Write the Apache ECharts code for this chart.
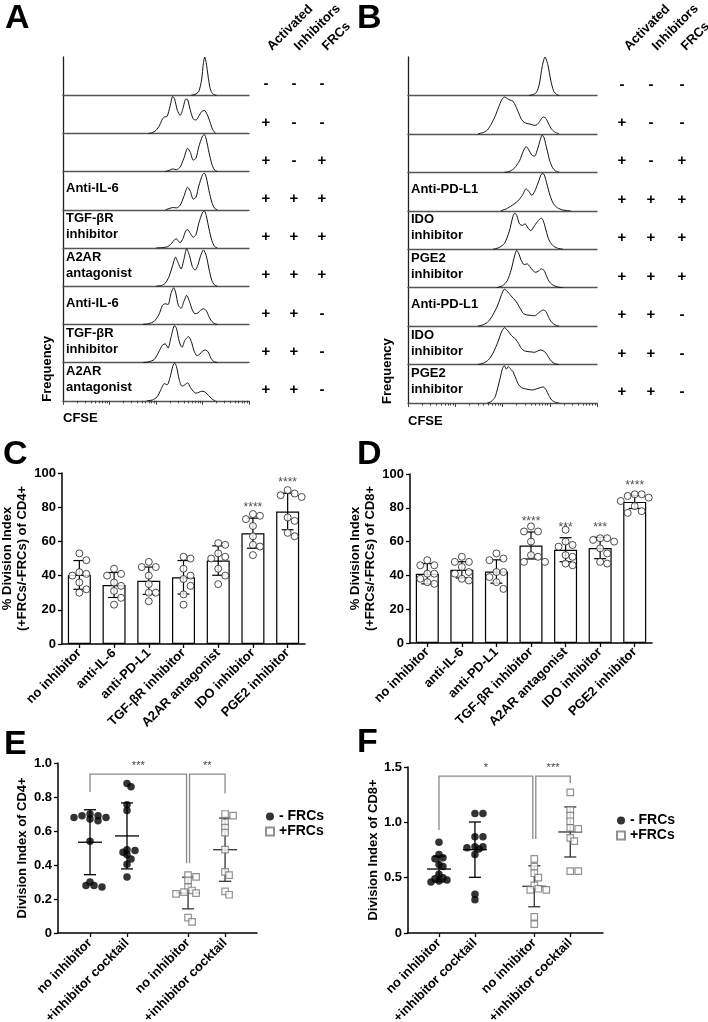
<!DOCTYPE html>
<html><head><meta charset="utf-8">
<script src="https://cdn.jsdelivr.net/npm/echarts@6/dist/echarts.min.js"></script>
<style>html,body{margin:0;padding:0;background:#fff}#c{width:708px;height:1022px}</style>
</head><body><div id="c"></div><script>
// ================= DATA =================
const conditionHeaders = ['Activated', 'Inhibitors', 'FRCs'];
const conditions = [['-','-','-'],['+','-','-'],['+','-','+'],['+','+','+'],['+','+','+'],['+','+','+'],['+','+','-'],['+','+','-'],['+','+','-']];
const rowLabelsA = ['', '', '', 'Anti-IL-6', 'TGF-βR\ninhibitor', 'A2AR\nantagonist', 'Anti-IL-6', 'TGF-βR\ninhibitor', 'A2AR\nantagonist'];
const rowLabelsB = ['', '', '', 'Anti-PD-L1', 'IDO\ninhibitor', 'PGE2\ninhibitor', 'Anti-PD-L1', 'IDO\ninhibitor', 'PGE2\ninhibitor'];
const cfseMajorTicks = [10, 100, 1000, 10000, 100000];
const cfseMinorTicks = [20,30,40,50,60,70,80,90,200,300,400,500,600,700,800,900,2000,3000,4000,5000,6000,7000,8000,9000,20000,30000,40000,50000,60000,70000,80000,90000];

// CFSE histograms, panel A (x: % of axis width, y: % of row height)
const histA1 = [[69,0],[71,2],[73,10],[74.5,40],[75.5,85],[76.2,100],[77,85],[78,50],[79,20],[80,7],[81,2],[82.5,0]];
const histA2 = [[46,0],[48,2],[50,8],[52,22],[53.5,38],[54.5,43],[56,45],[57.5,70],[59,97],[60,90],[61.5,60],[63,47],[64.5,65],[66,90],[67,88],[68.5,60],[70,38],[71.5,35],[73,45],[74.5,57],[76,60],[77.5,50],[79,30],[80.5,10],[82,0]];
const histA3 = [[55,0],[57,3],[59,7],[61,5],[63,12],[65,35],[67,61],[68.5,50],[70,30],[71.5,35],[73,65],[75,93],[76,97],[77,85],[78.5,50],[80,20],[81.5,4],[83,0]];
const histA4 = [[55,0],[57,3],[59,6],[61,5],[63,12],[65,35],[67,59],[68.5,48],[70,28],[71.5,33],[73,62],[75,92],[76,96],[77,85],[78.5,50],[80,20],[81.5,4],[83,0]];
const histA5 = [[50,0],[53,1],[56,3],[58,10],[60,22],[61,24],[62,18],[63,14],[64.5,25],[66,45],[67,48],[68.5,38],[70,28],[71.5,35],[73,65],[75,93],[76,97],[77,85],[78.5,50],[80,20],[81.5,4],[83,0]];
const histA6 = [[50,0],[53,2],[55,8],[57,25],[59,55],[60.5,76],[62,60],[63.5,45],[65,70],[66.5,98],[68,80],[69.5,52],[71,42],[72.5,55],[74,80],[75.5,95],[77,80],[78.5,45],[80,15],[81.5,3],[83,0]];
const histA7 = [[43,0],[46,2],[49,8],[51.5,25],[53.5,50],[55,54],[56.5,52],[58,80],[59.5,96],[60.5,85],[62,50],[63.5,42],[65,60],[66.5,76],[68,60],[69.5,38],[71,28],[72.5,30],[74,37],[75.5,41],[77,36],[78.5,20],[80,8],[81.5,2],[83,0]];
const histA8 = [[43,0],[46,2],[49,8],[51.5,28],[53.5,46],[55,49],[56.5,38],[58,65],[60,97],[61,90],[62.5,55],[64,40],[65.5,58],[67.5,68],[69,55],[70.5,30],[72,18],[73.5,22],[75,30],[76.5,33],[78,28],[79.5,12],[81,3],[83,0]];
const histA9 = [[45,0],[48,2],[50.5,10],[52.5,28],[54.5,45],[56,42],[57.5,60],[59,90],[60,99],[61,90],[62.5,55],[64,38],[65.5,42],[67,47],[68.5,35],[70,25],[71.5,20],[73,22],[74.5,25],[76,24],[77.5,18],[79,10],[80.5,3],[82,0]];
// panel B
const histB1 = [[64,0],[66,2],[68,8],[69.5,30],[71,75],[72.5,100],[74,80],[75.5,40],[77,12],[78.5,3],[80,0]];
const histB2 = [[37,0],[40,4],[42,10],[44,25],[46,45],[48,70],[49.5,88],[51,96],[52.5,92],[54,88],[55.5,85],[57,72],[58.5,55],[60,38],[61.5,30],[63,27],[65,25],[67,22],[68.5,25],[70,35],[71.5,44],[73,40],[74.5,25],[76,12],[78,4],[80,0]];
const histB3 = [[51,0],[54,3],[56.5,12],[59,30],[61,55],[62.5,67],[64,58],[65.5,45],[67,42],[68.5,60],[70,85],[71,97],[72,90],[73.5,60],[75,30],[76.5,12],[78,4],[80,0]];
const histB4 = [[49,0],[52,5],[55,14],[58,25],[60.5,40],[62.5,57],[64,50],[65.5,40],[67,50],[69,75],[70.5,95],[71.5,97],[72.5,88],[74,60],[75.5,35],[77,18],[79,8],[82,2],[86,0]];
const histB5 = [[45,0],[48,4],[51,15],[53.5,45],[55.5,85],[56.5,94],[57.5,88],[59,66],[60.5,62],[62,66],[63.5,55],[65,48],[66.5,58],[68.5,72],[70.5,81],[71.5,75],[73,50],[74.5,25],[76.5,10],[79,3],[82,0]];
const histB6 = [[47,0],[50,5],[52.5,18],[54.5,45],[56.5,85],[57.5,97],[58.5,90],[60,70],[61.5,60],[63,62],[64.5,55],[66,45],[67.5,40],[69,43],[70.5,49],[72,45],[73.5,28],[75,14],[77,6],[80,1],[82,0]];
const histB7 = [[37,0],[40,4],[42.5,12],[45,30],[47.5,55],[49.5,82],[51,96],[52,93],[53.5,85],[55,76],[56.5,68],[58,58],[59.5,45],[61,33],[63,29],[65,28],[67,27],[68.5,32],[70,38],[71.5,42],[73,38],[74.5,22],[76,10],[78,3],[80,0]];
const histB8 = [[37,0],[40,4],[42.5,12],[45,30],[47.5,58],[49.5,85],[51,96],[52.5,90],[54,80],[55.5,72],[57,66],[58.5,55],[60,42],[61.5,36],[63,34],[65,33],[67,32],[68.5,35],[70,38],[71.5,36],[73,30],[74.5,18],[76,8],[78,2],[80,0]];
const histB9 = [[42,0],[44,4],[46,15],[47.5,40],[49,70],[50,90],[51,97],[52,88],[53,95],[54,90],[55.5,82],[57,65],[58.5,48],[60,40],[62,37],[64,35],[66,34],[68,37],[70,40],[71.5,42],[73,35],[74.5,20],[76,8],[78,2],[80,0]];

// panels C / D
const inhibitorCategories = ['no inhibitor', 'anti-IL-6', 'anti-PD-L1', 'TGF-βR inhibitor', 'A2AR antagonist', 'IDO inhibitor', 'PGE2 inhibitor'];
const meanC = [40.4, 34.5, 37.0, 39.0, 48.8, 64.8, 77.5];
const sdC = [8.4, 7.3, 8.0, 9.8, 8.6, 8.8, 10.7];
const pointsC = [
  [53, 49, 42, 41, 40, 36, 32, 30],
  [44, 41, 40, 36, 34, 31, 27, 23],
  [48, 45, 45, 40, 35, 30, 30, 25],
  [51, 50, 44, 40, 38, 34, 29, 23],
  [59, 58, 53, 51, 50, 44, 40, 35],
  [76, 75, 73, 69, 63, 58, 57, 52],
  [90, 88, 87, 86, 74, 72, 65, 63]
];
const sigC = ['', '', '', '', '', '****', '****'];
const meanD = [41.0, 43.3, 42.3, 57.7, 55.2, 56.2, 83.5];
const sdD = [6.0, 4.8, 6.9, 8.0, 7.1, 6.3, 3.9];
const pointsD = [
  [49, 46, 46, 41, 41, 38, 36, 35],
  [51, 48, 48, 45, 42, 41, 38, 37],
  [53, 50, 49, 42, 42, 39, 36, 32],
  [69, 66, 66, 60, 52, 51, 48, 48],
  [67, 60, 58, 57, 52, 51, 47, 46],
  [62, 62, 61, 60, 56, 53, 48, 47],
  [88, 88, 87, 86, 84, 81, 78, 77]
];
const sigD = ['', '', '', '****', '***', '***', '****'];

// panels E / F
const groupLabelsEF = ['no inhibitor', '+inhibitor cocktail', 'no inhibitor', '+inhibitor cocktail'];
const groupFRC = ['- FRCs', '- FRCs', '+FRCs', '+FRCs'];
const pointsE = [
  [0.70, 0.69, 0.69, 0.68, 0.68, 0.67, 0.66, 0.54, 0.30, 0.28, 0.28, 0.27],
  [0.88, 0.86, 0.755, 0.72, 0.49, 0.485, 0.475, 0.46, 0.435, 0.405, 0.33],
  [0.34, 0.33, 0.31, 0.27, 0.25, 0.24, 0.235, 0.23, 0.09, 0.065],
  [0.70, 0.69, 0.65, 0.62, 0.59, 0.49, 0.36, 0.34, 0.245, 0.225]
];
const meanE = [0.534, 0.571, 0.235, 0.49];
const sdE = [0.191, 0.194, 0.093, 0.186];
const compE = [[0, 2, '***'], [2, 3, '**']];
const pointsF = [
  [0.82, 0.71, 0.68, 0.67, 0.62, 0.60, 0.53, 0.50, 0.49, 0.48, 0.47, 0.46],
  [1.08, 1.08, 0.87, 0.87, 0.78, 0.78, 0.77, 0.76, 0.71, 0.35, 0.30],
  [0.67, 0.60, 0.54, 0.50, 0.43, 0.40, 0.39, 0.39, 0.145, 0.08],
  [1.27, 1.11, 1.06, 1.01, 0.95, 0.94, 0.86, 0.83, 0.56, 0.56]
];
const meanF = [0.578, 0.753, 0.422, 0.913];
const sdF = [0.116, 0.25, 0.185, 0.226];
const compF = [[0, 2, '*'], [2, 3, '***']];

// ================= LAYOUT / STYLE =================
const FONT = '"Liberation Sans", Arial, Helvetica, sans-serif';
const chart = echarts.init(document.getElementById('c'), null, {renderer: 'canvas'});

const grids = [], xAxes = [], yAxes = [], series = [], graphics = [];

function txt(x, y, text, o) {
  o = o || {};
  const a = o.a || 'left', v = o.v || 'middle';
  return {type: 'text', x: x, y: y, rotation: o.rot || 0, silent: true, z: 100,
    style: {text: text, font: (o.w || 'bold') + ' ' + (o.s || 13) + 'px ' + FONT, fill: o.c || '#000',
      textAlign: a, textVerticalAlign: v, align: a, verticalAlign: v, lineHeight: o.lh || undefined}};
}

// ---------- histogram panels ----------
function histPanel(hists, labels, L, W, top, rowH, symX, headX, freqX) {
  hists.forEach(function (h, r) {
    const gi = grids.length;
    grids.push({left: L, top: top + r * rowH, width: W, height: rowH, outerBoundsMode: 'none'});
    xAxes.push({gridIndex: gi, type: 'value', min: 0, max: 100, axisLine: {show: true, onZero: false, lineStyle: {color: '#555', width: 1.3}},
      axisTick: {show: false}, axisLabel: {show: false}, splitLine: {show: false}});
    yAxes.push({gridIndex: gi, type: 'value', min: 0, max: 100, axisLine: {show: true, lineStyle: {color: '#222', width: 1.3}},
      axisTick: {show: false}, axisLabel: {show: false}, splitLine: {show: false}});
    series.push({type: 'line', xAxisIndex: gi, yAxisIndex: gi, data: h, showSymbol: false, smooth: 0.25,
      lineStyle: {color: '#111', width: 1}, silent: true});
    const base = top + (r + 1) * rowH;
    conditions[r].forEach(function (s, k) { graphics.push(txt(symX[k], base - 11, s, {a: 'center', s: 15})); });
    if (labels[r]) graphics.push(txt(L + 3, top + r * rowH + 17, labels[r], {s: 13, lh: 16}));
  });
  // CFSE log axis (major + minor ticks)
  [[cfseMajorTicks, 4], [cfseMinorTicks, 2.5]].forEach(function (t) {
    const gi = grids.length;
    grids.push({left: L, top: top + 9 * rowH - 10, width: W, height: 10, outerBoundsMode: 'none'});
    xAxes.push({gridIndex: gi, type: 'log', logBase: 10, min: 10, max: 100000, axisLine: {show: false},
      axisTick: {show: true, inside: false, length: t[1], customValues: t[0], lineStyle: {color: '#444', width: 1}},
      axisLabel: {show: false}, splitLine: {show: false}, minorTick: {show: false}});
    yAxes.push({gridIndex: gi, type: 'value', show: false});
  });
  conditionHeaders.forEach(function (h, k) {
    graphics.push(txt(headX[k], 53, h, {rot: Math.PI / 4, v: 'bottom', s: 13}));
  });
  graphics.push(txt(freqX, top + 9 * rowH - 32, 'Frequency', {rot: Math.PI / 2, a: 'center', s: 13}));
  graphics.push(txt(L, top + 9 * rowH + 18, 'CFSE', {s: 13}));
}
histPanel([histA1, histA2, histA3, histA4, histA5, histA6, histA7, histA8, histA9], rowLabelsA,
  63, 186, 57, 38.2, [266, 294, 322], [274, 301, 329], 47);
histPanel([histB1, histB2, histB3, histB4, histB5, histB6, histB7, histB8, histB9], rowLabelsB,
  408, 189, 57, 38.45, [622, 651, 682], [631, 659, 688], 387);

// ---------- beeswarm offsets (layout only) ----------
function swarm(vals, pxPerUnit, diam, step) {
  const order = vals.map(function (v, i) { return i; }).sort(function (a, b) { return vals[b] - vals[a]; });
  const placed = [], off = vals.map(function () { return 0; });
  order.forEach(function (i) {
    const y = vals[i] * pxPerUnit;
    for (let k = 0; k < 16; k++) {
      const dx = k === 0 ? 0 : (k % 2 ? 1 : -1) * Math.ceil(k / 2) * step;
      if (placed.every(function (p) { return Math.hypot(p.x - dx, p.y - y) >= diam; })) {
        off[i] = dx; placed.push({x: dx, y: y}); break;
      }
    }
  });
  return off;
}

// ---------- bar panels C / D ----------
function barPanel(L, W, top, H, means, sds, pts, sigs, yName, nameGap) {
  const gi = grids.length;
  grids.push({left: L, top: top, width: W, height: H, outerBoundsMode: 'none'});
  xAxes.push({gridIndex: gi, type: 'category', data: inhibitorCategories, boundaryGap: true,
    axisLine: {show: true, lineStyle: {color: '#000', width: 1.5}},
    axisTick: {show: true, alignWithLabel: true, length: 4, lineStyle: {color: '#000', width: 1.3}},
    axisLabel: {interval: 0, rotate: 45, margin: 7, color: '#000', fontFamily: FONT, fontWeight: 'bold', fontSize: 13},
    splitLine: {show: false}});
  yAxes.push({gridIndex: gi, type: 'value', min: 0, max: 100, interval: 20,
    axisLine: {show: true, lineStyle: {color: '#000', width: 1.5}},
    axisTick: {show: true, length: 4, lineStyle: {color: '#000', width: 1.3}},
    axisLabel: {color: '#000', fontFamily: FONT, fontWeight: 'bold', fontSize: 13, margin: 6},
    splitLine: {show: false},
    name: yName, nameLocation: 'middle', nameGap: nameGap,
    nameTextStyle: {color: '#000', fontFamily: FONT, fontWeight: 'bold', fontSize: 13, lineHeight: 15}});
  series.push({type: 'bar', xAxisIndex: gi, yAxisIndex: gi, data: means, barWidth: 23, silent: true,
    itemStyle: {color: '#fff', borderColor: '#000', borderWidth: 1.2}, z: 2});
  series.push({type: 'custom', xAxisIndex: gi, yAxisIndex: gi, silent: true, z: 3,
    data: means.map(function (m, i) { return [i, m, sds[i]]; }), encode: {x: 0, y: 1},
    renderItem: function (p, api) {
      const i = api.value(0), m = api.value(1), s = api.value(2);
      const t = api.coord([i, m + s]), b = api.coord([i, m - s]);
      const x = t[0], st = {stroke: '#000', lineWidth: 1.2};
      return {type: 'group', children: [
        {type: 'line', shape: {x1: x, y1: t[1], x2: x, y2: b[1]}, style: st},
        {type: 'line', shape: {x1: x - 6, y1: t[1], x2: x + 6, y2: t[1]}, style: st},
        {type: 'line', shape: {x1: x - 6, y1: b[1], x2: x + 6, y2: b[1]}, style: st}]};
    }});
  const pData = [];
  pts.forEach(function (g, i) {
    const off = swarm(g, H / 100, 7, 7);
    g.forEach(function (v, j) { pData.push({value: [i, v], symbolOffset: [off[j], 0]}); });
  });
  series.push({type: 'scatter', xAxisIndex: gi, yAxisIndex: gi, data: pData, symbol: 'circle', symbolSize: 7, silent: true, z: 4,
    itemStyle: {color: '#fff', borderColor: '#222', borderWidth: 1}});
  series.push({type: 'scatter', xAxisIndex: gi, yAxisIndex: gi, symbolSize: 0, silent: true, z: 5,
    data: means.map(function (m, i) { return [i, m + sds[i]]; }),
    label: {show: true, position: 'top', distance: 4, color: '#222', fontFamily: FONT, fontSize: 12,
      formatter: function (p) { return sigs[p.dataIndex]; }}});
}
barPanel(62, 243, 473, 171, meanC, sdC, pointsC, sigC, '% Division Index\n(+FRCs/-FRCs) of CD4+', 29);
barPanel(410, 242, 474, 169, meanD, sdD, pointsD, sigD, '% Division Index\n(+FRCs/-FRCs) of CD8+', 24);

// ---------- dot panels E / F ----------
const groupPos = [1, 2, 3.65, 4.65];
function dotPanel(L, W, top, H, xmin, xmax, ymax, yint, pts, means, sds, comps, br, yName, nameGap, pxPerX) {
  const gi = grids.length;
  grids.push({left: L, top: top, width: W, height: H, outerBoundsMode: 'none'});
  xAxes.push({gridIndex: gi, type: 'value', min: xmin, max: xmax,
    axisLine: {show: true, onZero: false, lineStyle: {color: '#000', width: 1.5}},
    axisTick: {show: true, length: 4, customValues: groupPos, lineStyle: {color: '#000', width: 1.3}},
    axisLabel: {customValues: groupPos, rotate: 45, margin: 8, color: '#000', fontFamily: FONT, fontWeight: 'bold', fontSize: 13,
      formatter: function (v) { let b = 0; groupPos.forEach(function (g, i) { if (Math.abs(g - v) < Math.abs(groupPos[b] - v)) b = i; }); return groupLabelsEF[b]; }},
    splitLine: {show: false}});
  yAxes.push({gridIndex: gi, type: 'value', min: 0, max: ymax, interval: yint,
    axisLine: {show: true, lineStyle: {color: '#000', width: 1.5}},
    axisTick: {show: true, length: 4, lineStyle: {color: '#000', width: 1.3}},
    axisLabel: {color: '#000', fontFamily: FONT, fontWeight: 'bold', fontSize: 13, margin: 6,
      formatter: function (v) { return v === 0 ? '0' : v.toFixed(1); }},
    splitLine: {show: false},
    name: yName, nameLocation: 'middle', nameGap: nameGap,
    nameTextStyle: {color: '#000', fontFamily: FONT, fontWeight: 'bold', fontSize: 13}});
  // brackets
  series.push({type: 'custom', xAxisIndex: gi, yAxisIndex: gi, silent: true, z: 2,
    data: comps.map(function (c, k) { return [groupPos[c[0]], br.top, k]; }), encode: {x: 0, y: 1},
    renderItem: function (p, api) {
      const k = api.value(2), c = comps[k], shift = 1.5 / pxPerX;
      const x1 = groupPos[c[0]] + (k === 1 ? shift : 0), x2 = groupPos[c[1]] - (k === 0 ? shift : 0);
      const a = api.coord([x1, br.top]), b = api.coord([x2, br.top]);
      const la = api.coord([x1, br.legs[k][0]]), lb = api.coord([x2, br.legs[k][1]]);
      const st = {stroke: '#8a8a8a', lineWidth: 1.3, fill: null};
      return {type: 'group', children: [
        {type: 'polyline', shape: {points: [[la[0], la[1]], [a[0], a[1]], [b[0], b[1]], [lb[0], lb[1]]]}, style: st},
        {type: 'text', style: {text: c[2], x: (a[0] + b[0]) / 2, y: a[1] - 3, align: 'center', verticalAlign: 'bottom',
          textAlign: 'center', textVerticalAlign: 'bottom', fill: '#444', font: '11px ' + FONT}}]};
    }});
  // error bars
  series.push({type: 'custom', xAxisIndex: gi, yAxisIndex: gi, silent: true, z: 3,
    data: means.map(function (m, i) { return [groupPos[i], m, sds[i], i]; }), encode: {x: 0, y: 1},
    renderItem: function (p, api) {
      const x0 = api.value(0), m = api.value(1), s = api.value(2), i = api.value(3);
      const c = api.coord([x0, m]), t = api.coord([x0, m + s]), b = api.coord([x0, m - s]);
      const st = {stroke: i < 2 ? '#000' : '#333', lineWidth: 1.3};
      return {type: 'group', children: [
        {type: 'line', shape: {x1: c[0] - 12, y1: c[1], x2: c[0] + 12, y2: c[1]}, style: st},
        {type: 'line', shape: {x1: c[0], y1: t[1], x2: c[0], y2: b[1]}, style: st},
        {type: 'line', shape: {x1: c[0] - 6, y1: t[1], x2: c[0] + 6, y2: t[1]}, style: st},
        {type: 'line', shape: {x1: c[0] - 6, y1: b[1], x2: c[0] + 6, y2: b[1]}, style: st}]};
    }});
  ['- FRCs', '+FRCs'].forEach(function (name) {
    const d = [];
    pts.forEach(function (g, i) {
      if (groupFRC[i] !== name) return;
      const off = swarm(g, H / ymax, 4.5, 4);
      g.forEach(function (v, j) { d.push({value: [groupPos[i], v], symbolOffset: [off[j], 0]}); });
    });
    const minus = name === '- FRCs';
    series.push({type: 'scatter', name: name, xAxisIndex: gi, yAxisIndex: gi, data: d, silent: true, z: 4,
      symbol: minus ? 'circle' : 'rect', symbolSize: minus ? 7.5 : 6.5,
      itemStyle: minus ? {color: '#000'} : {color: '#fff', borderColor: '#777', borderWidth: 1.2}});
  });
}
dotPanel(58, 199, 763, 170, 0.135, 5.513, 1.0, 0.2, pointsE, meanE, sdE, compE,
  {top: 0.935, legs: [[0.83, 0.41], [0.41, 0.82]]}, 'Division Index of CD4+', 29.5, 37);
dotPanel(408, 195, 767, 166, 0.139, 5.56, 1.5, 0.5, pointsF, meanF, sdF, compF,
  {top: 1.418, legs: [[0.93, 0.85], [0.85, 1.355]]}, 'Division Index of CD8+', 25.5, 36);

// panel letters
[['A', 5, 2], ['B', 357, 2], ['C', 3, 438], ['D', 357, 438], ['E', 4, 728], ['F', 357, 726]].forEach(function (l) {
  graphics.push(txt(l[1], l[2], l[0], {s: 34, v: 'top'}));
});

const legendStyle = {orient: 'vertical', itemWidth: 8, itemHeight: 8, itemGap: 0,
  textStyle: {color: '#000', fontFamily: FONT, fontWeight: 'bold', fontSize: 14, lineHeight: 15},
  data: [{name: '- FRCs', icon: 'circle'}, {name: '+FRCs', icon: 'rect'}], selectedMode: false};

chart.setOption({
  animation: false,
  backgroundColor: '#fff',
  grid: grids, xAxis: xAxes, yAxis: yAxes, series: series,
  legend: [Object.assign({left: 260, top: 804}, legendStyle), Object.assign({left: 611, top: 808}, legendStyle)],
  graphic: {elements: graphics}
});
</script></body></html>
